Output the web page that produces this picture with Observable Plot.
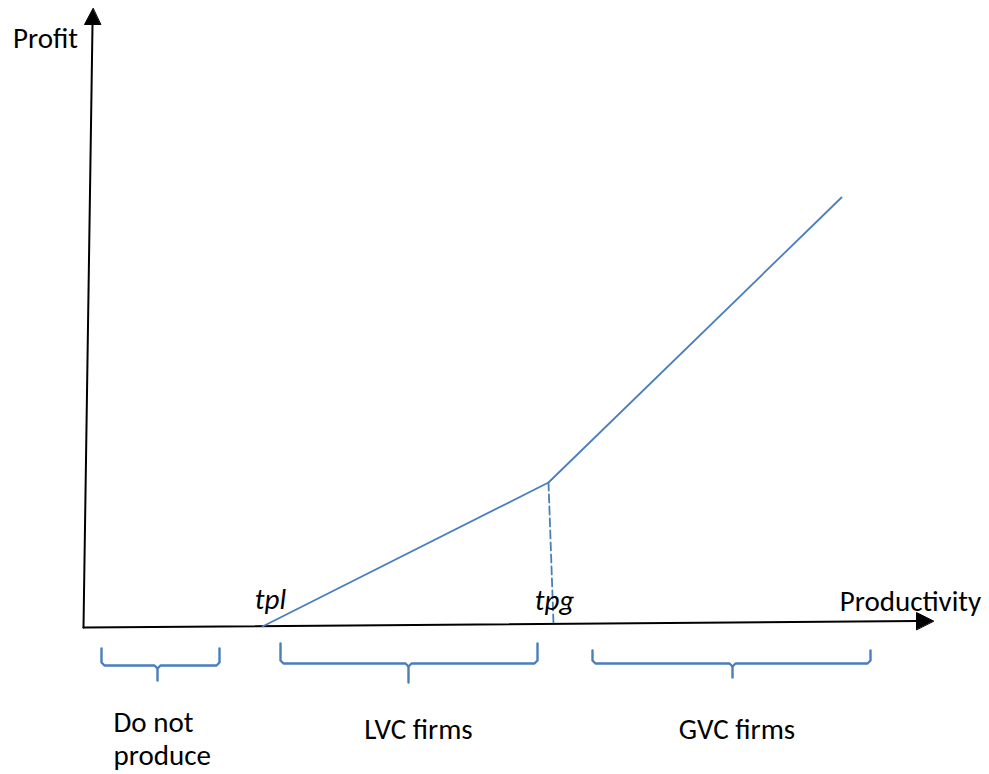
<!DOCTYPE html>
<html>
<head>
<meta charset="utf-8">
<script src="https://cdn.jsdelivr.net/npm/d3@7"></script>
<script src="https://cdn.jsdelivr.net/npm/@observablehq/plot@0.6"></script>
<style>
  html, body { margin: 0; padding: 0; background: #fff; }
  #chart svg { display: block; }
</style>
</head>
<body>
<div id="chart"></div>
<script>
// Data units: productivity (x) and profit (y); origin of the axes at (0, 0)
const yAxisLine = [[0, 0], [0.09, 6.03]];
const yAxisHead = [[0.095, 6.19], [0.01, 6.03], [0.17, 6.03]];
const xAxisLine = [[0, 0], [8.34, 0.065]];
const xAxisHead = [[8.50, 0.065], [8.33, 0.15], [8.33, -0.02]];

const profitProductivity = [1.79, 4.65, 7.58];
const profitValues = [0.01, 1.45, 4.30];

const tpgDropX = [4.65, 4.70];
const tpgDropY = [1.45, 0.04];

const regionLabels = ["Do not\nproduce", "LVC firms", "GVC firms"];
const braceLeft = [0.18, 1.97, 5.09];
const braceRight = [1.36, 4.54, 7.87];
const braceMid = [0.74, 3.25, 6.49];
const braceTop = [-0.21, -0.16, -0.23];
const braceBar = [-0.38, -0.36, -0.36];
const braceTail = [-0.53, -0.55, -0.50];
const regionLabelX = [0.30, 3.35, 6.535];
const regionLabelY = [-1.10, -1.02, -1.02];

const thresholdLabels = ["tpl", "tpg"];
const thresholdX = [1.87, 4.71];
const thresholdY = [0.275, 0.27];

const axisTitles = ["Profit", "Productivity"];
const axisTitleX = [-0.38, 8.27];
const axisTitleY = [5.89, 0.253];

const blue = "#4a7ebb";
const font = "Carlito, Calibri, Lato, sans-serif";
const fs = 29;

// build tables
const profitLine = profitProductivity.map((x, i) => ({x, y: profitValues[i]}));
const tpgDrop = tpgDropX.map((x, i) => ({x, y: tpgDropY[i]}));
const braces = [];
regionLabels.forEach((lab, i) => {
  const L = braceLeft[i], R = braceRight[i], M = braceMid[i];
  const t = braceTop[i], b = braceBar[i], tail = braceTail[i];
  const r = 0.03;
  [[L, t], [L, b + r], [L + r, b], [M - r, b], [M, b - r], [M, tail]].forEach(([x, y]) => braces.push({g: lab + "a", x, y}));
  [[R, t], [R, b + r], [R - r, b], [M + r, b], [M, b - r]].forEach(([x, y]) => braces.push({g: lab + "b", x, y}));
});
const axisLines = [
  ...yAxisLine.map(([x, y]) => ({g: "y", x, y})),
  ...xAxisLine.map(([x, y]) => ({g: "x", x, y}))
];
const heads = [
  ...yAxisHead.map(([x, y]) => ({g: "y", x, y})),
  ...xAxisHead.map(([x, y]) => ({g: "x", x, y}))
];
const regions = regionLabels.map((t, i) => ({t, x: regionLabelX[i], y: regionLabelY[i], first: i === 0}));
const thresholds = thresholdLabels.map((t, i) => ({t, x: thresholdX[i], y: thresholdY[i]}));
const titles = axisTitles.map((t, i) => ({t, x: axisTitleX[i], y: axisTitleY[i]}));

const chart = Plot.plot({
  width: 989,
  height: 774,
  margin: 0,
  style: {background: "#fff", color: "#000"},
  x: {domain: [-0.83, 9.06], range: [0, 989], axis: null},
  y: {domain: [-1.47, 6.27], range: [774, 0], axis: null},
  marks: [
    Plot.line(axisLines, {x: "x", y: "y", z: "g", stroke: "#000", strokeWidth: 2}),
    Plot.line(heads, {x: "x", y: "y", z: "g", fill: "#000", stroke: "#000", strokeWidth: 1, curve: "linear-closed"}),
    Plot.line(profitLine, {x: "x", y: "y", stroke: blue, strokeWidth: 1.8}),
    Plot.line(tpgDrop, {x: "x", y: "y", stroke: blue, strokeWidth: 1.8, strokeDasharray: "8,4"}),
    Plot.line(braces, {x: "x", y: "y", z: "g", stroke: blue, strokeWidth: 2.4}),
    Plot.text(titles, {x: "x", y: "y", text: "t", fontSize: fs, fontFamily: font, fill: "#000"}),
    Plot.text(thresholds, {x: "x", y: "y", text: "t", fontSize: fs, fontFamily: font, fontStyle: "italic", fill: "#000"}),
    Plot.text(regions.filter(d => d.first), {x: "x", y: "y", text: "t", textAnchor: "start", fontSize: fs, lineHeight: 1.14, fontFamily: font, fill: "#000"}),
    Plot.text(regions.filter(d => !d.first), {x: "x", y: "y", text: "t", textAnchor: "middle", fontSize: fs, fontFamily: font, fill: "#000"})
  ]
});
document.getElementById("chart").appendChild(chart);
</script>
</body>
</html>
